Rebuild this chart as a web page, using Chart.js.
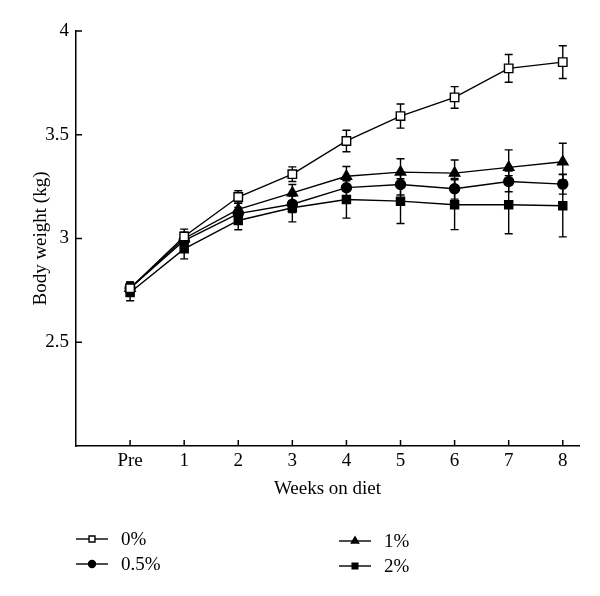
<!DOCTYPE html>
<html>
<head>
<meta charset="utf-8">
<script src="https://cdn.jsdelivr.net/npm/chart.js@4.4.0/dist/chart.umd.min.js"></script>
<style>
  html, body { margin: 0; padding: 0; background: #fff; }
  #wrap { width: 600px; height: 596px; position: relative; }
</style>
</head>
<body>
<div id="wrap"><canvas id="bwChart" width="600" height="596"></canvas></div>
<script>
// categorias do eixo x (Pre = 0)
const weeks = ['Pre', '1', '2', '3', '4', '5', '6', '7', '8'];
const yTicks = [2.5, 3, 3.5, 4];

const seriesNames = ['0%', '0.5%', '1%', '2%'];
const w0 = [2.76, 3.01, 3.20, 3.31, 3.47, 3.59, 3.68, 3.82, 3.85];
const w0err = [0.03, 0.035, 0.03, 0.035, 0.052, 0.058, 0.052, 0.067, 0.079];
const w05 = [2.76, 2.99, 3.12, 3.165, 3.245, 3.26, 3.24, 3.275, 3.262];
const w05err = [0.03, 0.03, 0.03, 0.04, 0.05, 0.05, 0.05, 0.05, 0.048];
const w1 = [2.76, 3.0, 3.14, 3.22, 3.30, 3.32, 3.315, 3.343, 3.37];
const w1err = [0.03, 0.03, 0.03, 0.04, 0.047, 0.064, 0.063, 0.084, 0.089];
const w2 = [2.74, 2.95, 3.087, 3.148, 3.188, 3.18, 3.163, 3.163, 3.158];
const w2err = [0.04, 0.048, 0.045, 0.068, 0.09, 0.108, 0.12, 0.14, 0.15];

const FONT = '"Liberation Serif", serif';

function toPoints(arr) {
  return arr.map((v, i) => ({ x: i, y: v }));
}

// barras de erro (antes dos pontos)
const errorBars = {
  id: 'errorBars',
  beforeDatasetsDraw(chart) {
    const ctx = chart.ctx;
    const xs = chart.scales.x, ys = chart.scales.y;
    ctx.save();
    ctx.strokeStyle = '#000';
    ctx.lineWidth = 1.4;
    chart.data.datasets.forEach(ds => {
      ds.data.forEach((p, i) => {
        const e = ds.errors[i];
        const px = xs.getPixelForValue(p.x);
        const top = ys.getPixelForValue(p.y + e);
        const bot = ys.getPixelForValue(p.y - e);
        ctx.beginPath();
        ctx.moveTo(px, top); ctx.lineTo(px, bot);
        ctx.moveTo(px - 4, top); ctx.lineTo(px + 4, top);
        ctx.moveTo(px - 4, bot); ctx.lineTo(px + 4, bot);
        ctx.stroke();
      });
    });
    ctx.restore();
  }
};

// ticks para dentro + legenda
const axisExtras = {
  id: 'axisExtras',
  afterDraw(chart) {
    const ctx = chart.ctx;
    const xs = chart.scales.x, ys = chart.scales.y;
    const area = chart.chartArea;
    ctx.save();
    ctx.strokeStyle = '#000';
    ctx.lineWidth = 1.5;
    ctx.beginPath();
    xs.ticks.forEach(t => {
      const px = xs.getPixelForValue(t.value);
      ctx.moveTo(px, area.bottom); ctx.lineTo(px, area.bottom - 6);
    });
    ys.ticks.forEach(t => {
      const py = ys.getPixelForValue(t.value);
      ctx.moveTo(area.left, py); ctx.lineTo(area.left + 6, py);
    });
    ctx.stroke();

    // legenda 2x2
    const spots = [[76, 539], [76, 564], [339, 541], [339, 566]];
    ctx.font = '19px ' + FONT;
    ctx.textBaseline = 'middle';
    ctx.lineWidth = 1.4;
    chart.data.datasets.forEach((ds, i) => {
      const [lx, ly] = spots[i];
      ctx.beginPath();
      ctx.moveTo(lx, ly); ctx.lineTo(lx + 32, ly);
      ctx.stroke();
      ctx.fillStyle = ds.pointBackgroundColor;
      Chart.helpers.drawPoint(ctx, {
        pointStyle: ds.pointStyle,
        radius: ds.pointRadius * 0.7,
        borderWidth: 1.4,
        rotation: 0
      }, lx + 16, ly);
      ctx.fillStyle = '#000';
      ctx.fillText(ds.label, lx + 45, ly + 1);
    });
    ctx.restore();
  }
};

function makeDataset(label, values, errors, style, radius, fill) {
  return {
    label: label,
    data: toPoints(values),
    errors: errors,
    borderColor: '#000',
    borderWidth: 1.4,
    pointStyle: style,
    pointRadius: radius,
    pointHoverRadius: radius,
    pointBackgroundColor: fill,
    pointBorderColor: '#000',
    pointBorderWidth: 1.4,
    tension: 0,
    fill: false
  };
}

const ctx = document.getElementById('bwChart').getContext('2d');
new Chart(ctx, {
  type: 'line',
  data: {
    datasets: [
      makeDataset(seriesNames[0], w0, w0err, 'rect', 6, '#fff'),
      makeDataset(seriesNames[1], w05, w05err, 'circle', 5, '#000'),
      makeDataset(seriesNames[2], w1, w1err, 'triangle', 6, '#000'),
      makeDataset(seriesNames[3], w2, w2err, 'rect', 5.7, '#000')
    ]
  },
  plugins: [errorBars, axisExtras],
  options: {
    responsive: false,
    animation: false,
    layout: { padding: { left: 26, top: 31, right: 21, bottom: 92 } },
    plugins: {
      legend: { display: false },
      tooltip: { enabled: false }
    },
    scales: {
      x: {
        type: 'linear',
        min: -1,
        max: 8.3,
        afterBuildTicks(scale) {
          scale.ticks = weeks.map((w, i) => ({ value: i }));
        },
        afterFit(scale) { scale.height = 58; },
        grid: { display: false, drawTicks: false },
        border: { display: true, color: '#000', width: 1.5 },
        ticks: {
          color: '#000',
          padding: 4,
          font: { family: FONT, size: 19 },
          callback: (v) => weeks[v]
        },
        title: {
          display: true,
          text: 'Weeks on diet',
          color: '#000',
          font: { family: FONT, size: 19 },
          padding: { top: 9 }
        }
      },
      y: {
        min: 2,
        max: 4,
        afterBuildTicks(scale) {
          scale.ticks = yTicks.map(v => ({ value: v }));
        },
        afterFit(scale) { scale.width = 50; },
        grid: { display: false, drawTicks: false },
        border: { display: true, color: '#000', width: 1.5 },
        ticks: {
          color: '#000',
          padding: 7,
          font: { family: FONT, size: 19 },
          callback: (v) => String(v)
        },
        title: {
          display: true,
          text: 'Body weight (kg)',
          color: '#000',
          font: { family: FONT, size: 19 },
          padding: { bottom: 0 }
        }
      }
    }
  }
});
</script>
</body>
</html>
